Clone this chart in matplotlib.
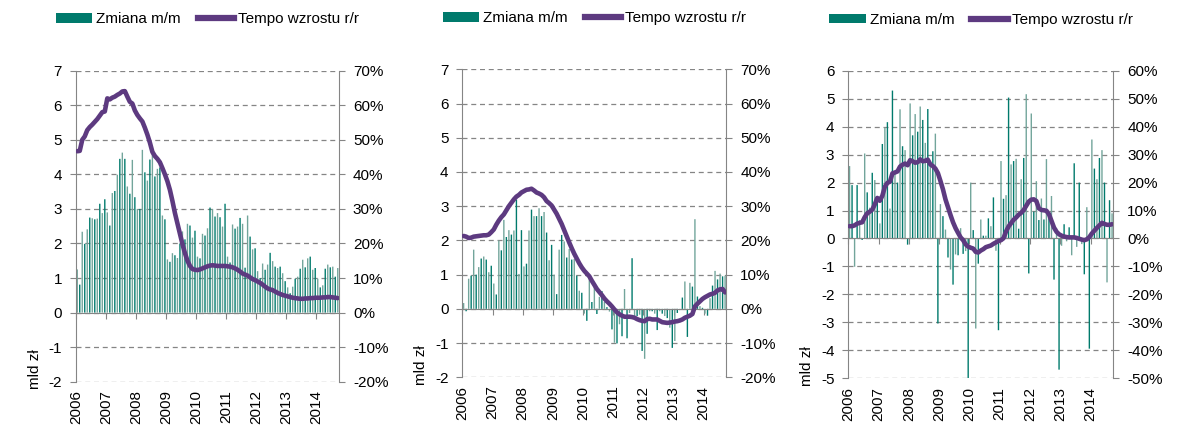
import matplotlib
matplotlib.use('Agg')
import matplotlib.pyplot as plt
from matplotlib.patches import Patch
from matplotlib.lines import Line2D
from matplotlib.ticker import FuncFormatter, MultipleLocator

plt.rcParams['font.family'] = ['Liberation Sans', 'DejaVu Sans']
plt.rcParams['axes.unicode_minus'] = False

years = ['2006', '2007', '2008', '2009', '2010', '2011', '2012', '2013', '2014']

# panel 1: zmiana m/m (mld zl) i tempo wzrostu r/r (%)
p1_mm = [1.25, 0.81, 2.34, 1.99, 2.41, 2.75, 2.73, 2.70, 2.72, 3.15, 2.88, 3.28,
         2.90, 2.52, 3.46, 3.52, 3.99, 4.45, 4.63, 4.45, 3.65, 3.44, 4.42, 3.34,
         3.00, 3.00, 4.71, 4.06, 3.82, 4.43, 4.60, 3.94, 4.16, 4.20, 2.81, 2.70,
         1.54, 1.47, 1.72, 1.66, 1.58, 2.00, 2.35, 2.12, 2.57, 2.52, 2.17, 2.37,
         1.62, 1.57, 2.28, 2.23, 2.44, 3.04, 3.00, 2.78, 2.88, 2.76, 2.49, 3.15,
         1.62, 1.45, 2.55, 2.43, 2.49, 2.74, 2.57, 1.30, 2.81, 2.20, 1.83, 1.86,
         1.20, 1.00, 1.42, 1.24, 1.39, 1.73, 1.49, 1.33, 1.29, 1.33, 1.14, 0.91,
         0.73, 0.56, 0.75, 0.98, 1.04, 1.27, 1.53, 1.31, 1.57, 1.62, 1.24, 1.29,
         0.98, 0.73, 0.79, 1.27, 1.39, 1.31, 1.33, 1.04, 1.29]
p1_rr = [46.7, 46.8, 50.0, 51.0, 52.8, 53.7, 54.4, 55.2, 56.0, 57.0, 58.0, 58.2,
         62.0, 61.7, 62.2, 62.5, 63.0, 63.4, 64.0, 64.1, 62.5, 61.0, 60.5, 58.5,
         57.2, 56.2, 55.3, 53.5, 51.5, 49.2, 46.5, 45.3, 44.5, 43.5, 41.8, 40.0,
         38.0, 35.5, 32.3, 28.8, 25.8, 22.8, 19.8, 17.2, 15.0, 13.5, 12.6, 12.4,
         12.3, 12.5, 12.8, 13.1, 13.4, 13.6, 13.7, 13.6, 13.5, 13.5, 13.5, 13.5,
         13.4, 13.3, 13.1, 12.8, 12.4, 11.9, 11.3, 11.0, 10.7, 10.2, 9.7, 9.4,
         9.0, 8.6, 8.1, 7.5, 7.0, 6.7, 6.5, 6.1, 5.7, 5.4, 5.1, 4.9,
         4.7, 4.5, 4.3, 4.2, 4.1, 4.0, 4.0, 4.1, 4.1, 4.2, 4.2, 4.3,
         4.3, 4.3, 4.4, 4.4, 4.5, 4.5, 4.4, 4.3, 4.2]

# panel 2
p2_mm = [0.17, -0.07, 0.88, 0.97, 1.73, 1.00, 1.22, 1.47, 1.53, 1.44, 1.07, 1.26,
         0.74, 0.42, 2.00, 1.71, 2.60, 2.10, 2.30, 2.17, 2.29, 3.19, 1.02, 2.30,
         1.24, 1.32, 2.29, 2.90, 2.71, 2.71, 2.94, 2.71, 2.83, 2.23, 1.42, 1.87,
         1.00, 0.43, 1.73, 2.16, 1.97, 1.50, 1.75, 1.44, 1.46, 0.97, 0.53, 0.47,
         -0.14, -0.35, 0.97, 0.20, 0.63, -0.15, 0.35, 0.52, 0.20, 0.05, -0.08, -0.60,
         -0.99, -1.01, -0.45, -0.80, 0.58, -0.86, -0.12, 1.48, -0.31, -0.21, -0.17, -1.23,
         -1.46, -0.73, -0.07, -0.07, -0.14, -0.62, -0.07, -0.14, -0.21, -0.27, -0.55, -1.14,
         -0.94, -0.12, -0.04, 0.33, 0.80, -0.82, 0.76, 0.65, 2.62, 0.36, 0.08, 0.03,
         -0.14, -0.20, 0.31, 0.68, 1.11, 0.86, 1.03, 0.95, 0.97]
p2_rr = [21.3, 21.1, 20.7, 20.8, 21.1, 21.2, 21.3, 21.4, 21.5, 21.5, 21.7, 22.4,
         23.2, 24.6, 25.8, 26.8, 27.6, 28.8, 30.0, 31.0, 32.0, 32.8, 33.3, 34.0,
         34.4, 34.8, 34.9, 35.1, 34.6, 34.0, 33.7, 33.3, 32.6, 31.5, 30.9, 30.2,
         29.0, 27.8, 26.3, 24.8, 23.0, 21.2, 19.4, 17.7, 16.1, 14.7, 13.3, 12.1,
         11.1, 10.3, 9.5, 8.2, 7.0, 5.8, 4.9, 4.0, 3.0, 2.2, 1.5, 0.7,
         -0.2, -1.0, -1.6, -2.0, -2.3, -2.3, -2.3, -2.4, -2.6, -3.0, -3.3, -3.5,
         -3.6, -3.0, -2.9, -3.1, -3.1, -3.1, -3.5, -3.9, -4.0, -4.1, -4.0, -3.9,
         -3.7, -3.6, -3.4, -3.1, -2.6, -2.3, -2.0, -1.5, 0.7, 1.5, 2.2, 2.9,
         3.4, 3.8, 4.2, 4.4, 4.7, 5.4, 5.7, 5.8, 4.8]

# panel 3
p3_mm = [2.59, 1.91, -1.01, 1.91, 0.65, -0.05, 3.04, 1.65, 1.10, 2.35, 2.09, 1.35,
         0.54, 3.38, 3.96, 4.16, 1.07, 5.29, 2.30, 2.00, 4.62, 3.30, 3.16, -0.22,
         4.83, 3.69, 4.45, 3.82, 4.72, 4.24, 3.42, 4.63, 2.60, 3.12, 3.75, -3.04,
         1.23, 0.80, 0.32, -0.68, -1.11, -1.65, -0.57, -0.60, 0.37, -0.55, -0.45, -5.00,
         2.00, 0.30, -3.22, -0.90, 0.68, 0.10, 0.10, 0.72, 0.44, 1.47, -0.44, -3.28,
         2.77, 1.42, 1.55, 5.04, 2.65, 2.77, 2.85, 0.35, 2.12, 2.88, 5.16, -1.25,
         4.47, 0.96, 2.05, 0.66, 1.43, 0.68, 2.84, 0.90, 1.52, -1.47, 0.36, -4.69,
         -0.26, 0.51, -0.10, 0.40, -0.60, 2.69, -0.30, 2.00, -0.20, -1.28, 1.12, -3.94,
         3.54, 2.50, 2.12, 2.88, 3.16, 2.00, -1.57, 1.37, 0.90]
p3_rr = [4.4, 4.4, 4.7, 5.3, 5.6, 5.8, 7.6, 9.0, 9.6, 10.3, 12.2, 14.5,
         13.5, 15.3, 18.5, 19.9, 20.3, 23.3, 23.6, 24.0, 25.7, 26.4, 26.8, 26.2,
         28.0, 27.6, 27.1, 27.3, 28.3, 27.6, 27.8, 28.2, 26.5, 25.9, 25.0, 23.4,
         20.6, 17.6, 14.0, 11.2, 8.4, 5.8, 3.7, 2.0, 0.4, -0.6, -2.1, -2.9,
         -3.3, -3.6, -4.8, -5.0, -4.3, -3.8, -3.1, -2.8, -2.5, -1.9, -1.4, -0.9,
         -0.6, 0.1, 2.5, 4.3, 5.5, 6.7, 7.5, 8.5, 9.2, 10.2, 11.7, 13.2,
         13.9, 14.0, 13.4, 10.8, 10.2, 10.1, 9.9, 8.7, 6.3, 3.9, 2.4, 1.5,
         1.0, 0.7, 0.5, 0.4, 0.4, 0.4, 0.2, -0.1, -0.4, -0.6, -0.3, 0.5,
         1.8, 2.8, 3.8, 4.7, 5.6, 5.2, 4.9, 4.9, 5.1]

TEAL = '#007a6c'
TEAL_LIGHT = '#72a59b'
PURPLE = '#5d3a80'
GRAY = '#858585'
FS = 11


def draw_panel(rect, mm, rr, ylim, y2lim):
    ax = fig.add_axes(rect)
    n = len(mm)
    x = list(range(n))
    # cienkie slupki: na przemian ciemny i jasny odcien jak w oryginale
    colors = [TEAL_LIGHT if i % 2 == 0 else TEAL for i in x]
    bars = ax.bar(x, mm, width=0.55, color=colors, linewidth=0, zorder=2)
    for b in bars:
        b.set_snap(False)
    ax.set_xlim(-0.5, n - 0.5)
    ax.set_ylim(*ylim)
    ax.yaxis.set_major_locator(MultipleLocator(1))
    ax.yaxis.set_major_formatter(FuncFormatter(lambda v, p: f'{v:.0f}'))
    ax.grid(True, axis='y', color=GRAY, linestyle=(0, (4, 3)), linewidth=0.9, zorder=0)
    ax.set_axisbelow(True)

    for s in ['top', 'right']:
        ax.spines[s].set_visible(False)
    ax.spines['left'].set_color(GRAY)
    ax.spines['bottom'].set_color(GRAY)
    ax.spines['bottom'].set_position(('data', 0))

    year_pos = [-0.5 + 12 * k for k in range(len(years))]
    ax.set_xticks(year_pos)
    ax.tick_params(axis='x', length=4, color=GRAY, labelbottom=False)
    ax.tick_params(axis='y', length=4, color=GRAY, labelsize=FS, pad=6)

    sec = ax.secondary_xaxis('bottom')
    sec.set_xticks(year_pos, years)
    sec.tick_params(length=0, labelsize=FS, rotation=90, pad=6)
    sec.spines['bottom'].set_visible(False)

    ax2 = ax.twinx()
    ax2.plot(x, rr, color=PURPLE, linewidth=3.3, solid_capstyle='round', zorder=3)
    ax2.set_ylim(*y2lim)
    ax2.yaxis.set_major_locator(MultipleLocator(10))
    ax2.yaxis.set_major_formatter(FuncFormatter(lambda v, p: f'{v:.0f}%'))
    ax2.tick_params(axis='y', length=4, color=GRAY, labelsize=FS, pad=6)
    for s in ['top', 'left', 'bottom']:
        ax2.spines[s].set_visible(False)
    ax2.spines['right'].set_color(GRAY)

    ax.text(-0.155, -0.025, 'mld zł', rotation=90, transform=ax.transAxes,
            ha='center', va='bottom', fontsize=FS)

    handles = [Patch(facecolor=TEAL, edgecolor='none'),
               Line2D([], [], color=PURPLE, linewidth=4.5)]
    ax2.legend(handles, ['Zmiana m/m', 'Tempo wzrostu r/r'], loc='center',
               bbox_to_anchor=(0.5, 1.165), ncol=2, frameon=False, fontsize=FS,
               handlelength=2.4, handleheight=0.55, handletextpad=0.25,
               columnspacing=1.1, borderaxespad=0)
    return ax


fig = plt.figure(figsize=(11.78, 4.42), dpi=100)

draw_panel([0.0645, 0.1364, 0.2233, 0.7036], p1_mm, p1_rr, (-2, 7), (-20, 70))
draw_panel([0.3925, 0.1464, 0.2241, 0.6968], p2_mm, p2_rr, (-2, 7), (-20, 70))
draw_panel([0.7201, 0.1441, 0.2250, 0.6959], p3_mm, p3_rr, (-5, 6), (-50, 60))

fig.savefig('out.png', dpi=100)
